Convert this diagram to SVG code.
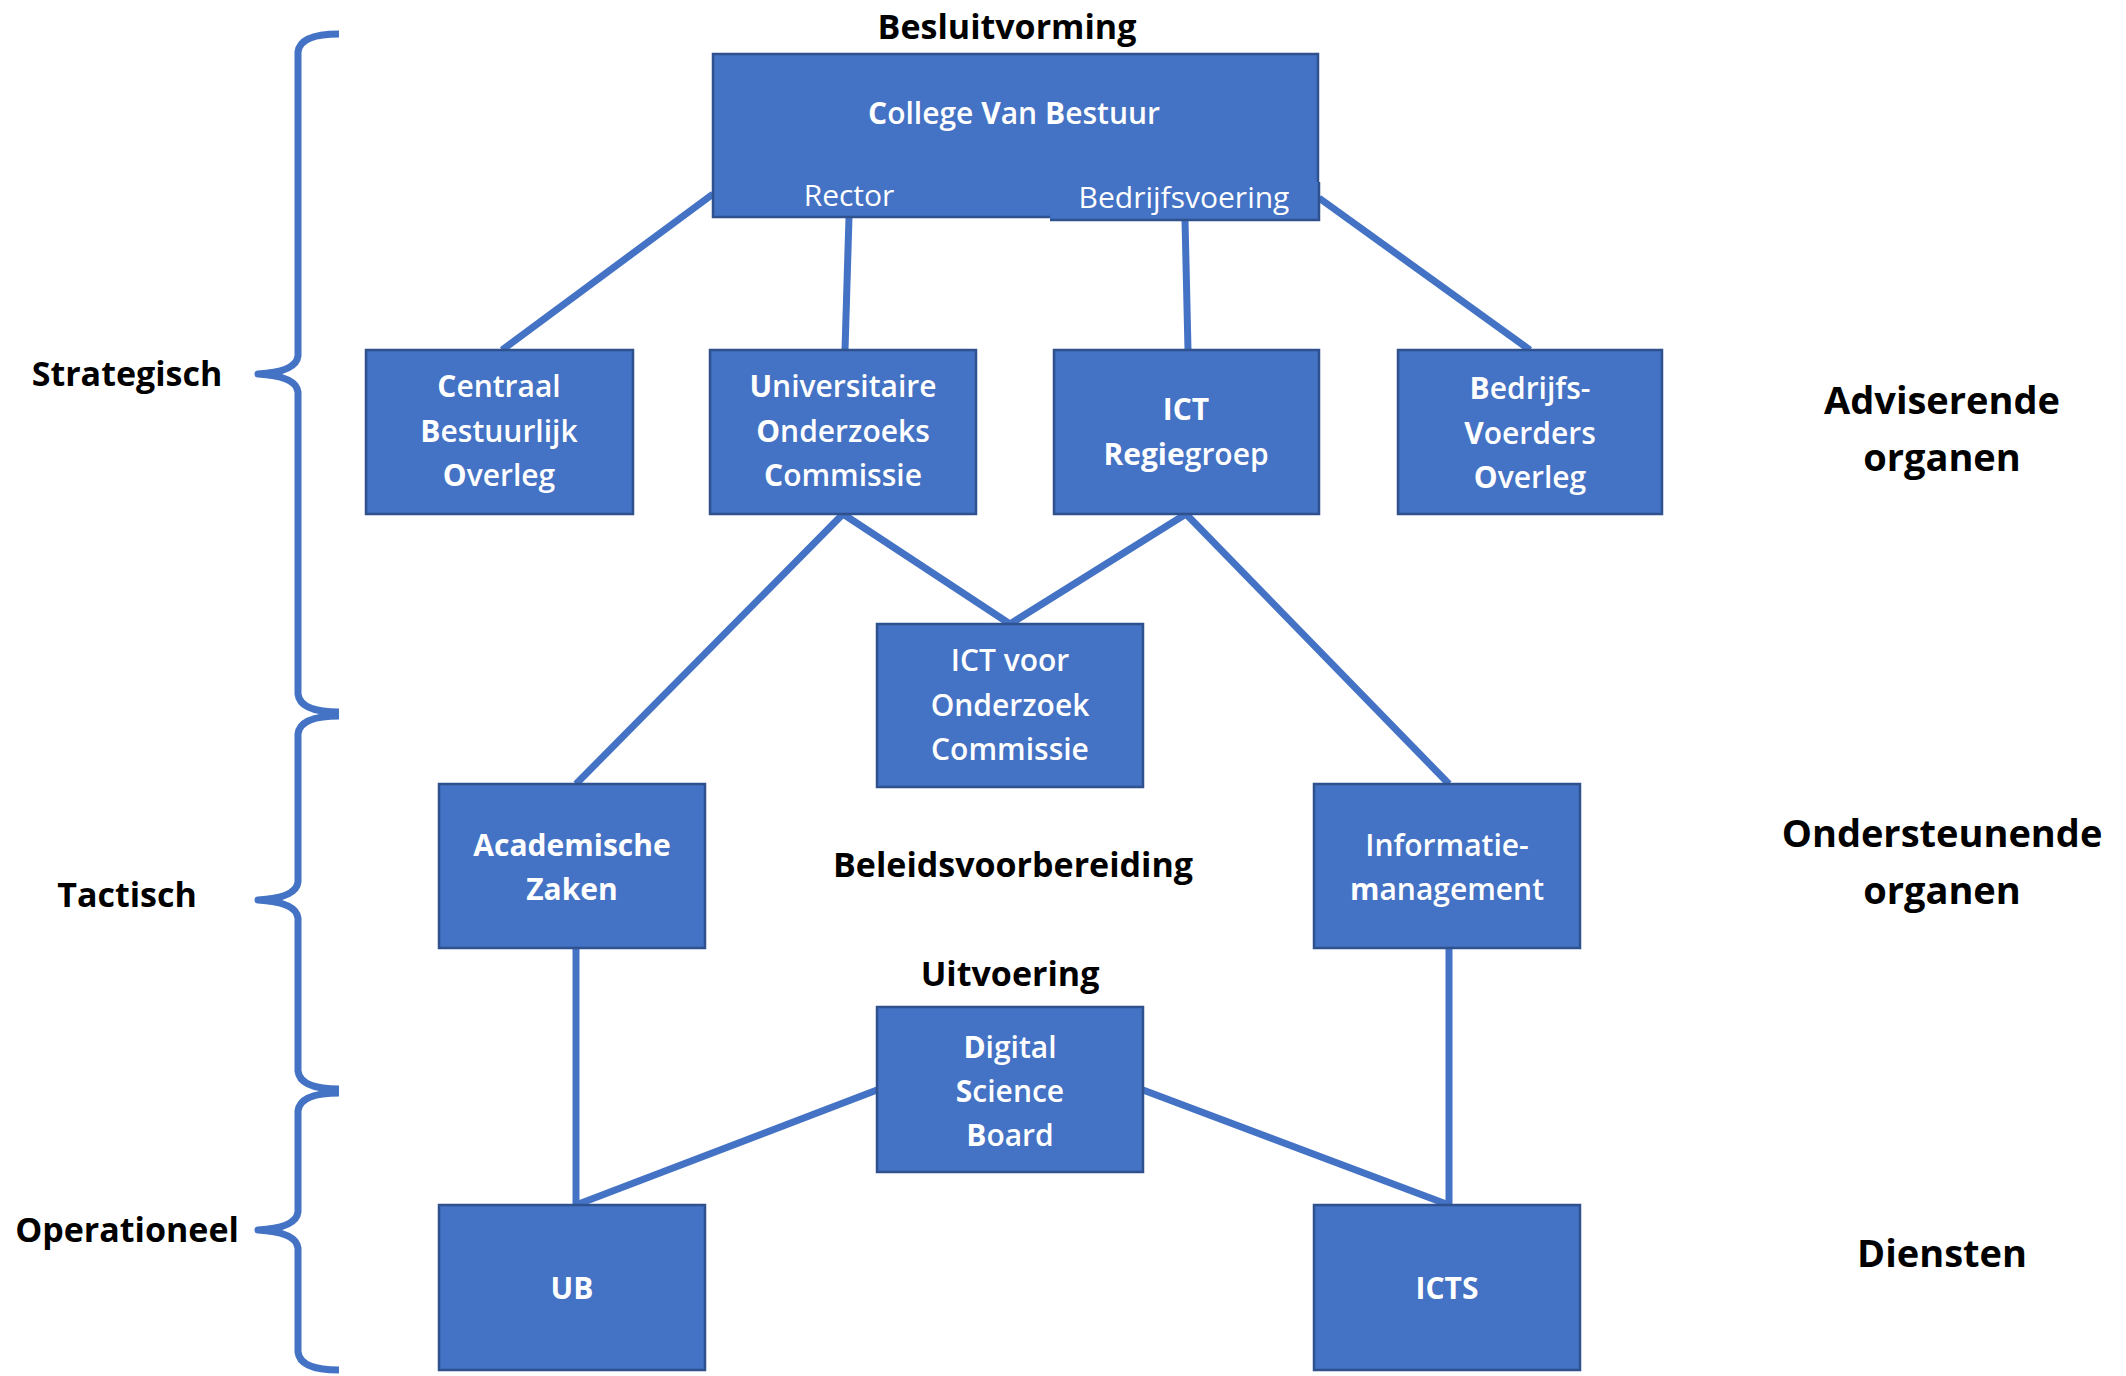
<svg xmlns="http://www.w3.org/2000/svg" width="2126" height="1376" viewBox="0 0 2126 1376">
<style>
.box{fill:#4472C4;stroke:#2F528F;stroke-width:2.5}
.con{stroke:#4472C4;stroke-width:7;fill:none}
.brace{stroke:#4472C4;stroke-width:7;fill:none;stroke-linejoin:round}
.bt{font-family:"Open Sans","Noto Sans","Liberation Sans",sans-serif;font-size:30px;font-weight:600;fill:#FFFFFF;text-anchor:middle}
.bt tspan.b{font-weight:700}
.bt.reg{font-weight:500}
.bt.bold{font-weight:700}
.lbl{font-family:"Open Sans","Noto Sans","Liberation Sans",sans-serif;font-size:34px;font-weight:700;fill:#000000;text-anchor:middle}
.rl{font-family:"Open Sans","Noto Sans","Liberation Sans",sans-serif;font-size:38px;font-weight:700;fill:#000000;text-anchor:middle}
</style>
<rect width="2126" height="1376" fill="#FFFFFF"/>

<g id="connectors">
<line class="con" x1="713" y1="194" x2="502" y2="350"/>
<line class="con" x1="849" y1="217" x2="845" y2="350"/>
<line class="con" x1="1185" y1="220" x2="1188" y2="350"/>
<line class="con" x1="1319" y1="198" x2="1530" y2="350"/>
<line class="con" x1="843" y1="514" x2="576" y2="784"/>
<line class="con" x1="843" y1="514" x2="1010" y2="624"/>
<line class="con" x1="1186" y1="514" x2="1010" y2="624"/>
<line class="con" x1="1186" y1="514" x2="1449" y2="784"/>
<line class="con" x1="576" y1="948" x2="576" y2="1205"/>
<line class="con" x1="1449" y1="948" x2="1449" y2="1205"/>
<line class="con" x1="877" y1="1090" x2="576" y2="1205"/>
<line class="con" x1="1143" y1="1090" x2="1449" y2="1205"/>
</g>

<g id="braces">
<path class="brace" d="M339,34 Q300,34 298,52 L298,356 Q296,372 258,374 Q296,376 298,392 L298,694 Q300,712 339,712"/>
<path class="brace" d="M339,716 Q300,716 298,734 L298,882 Q296,898 258,900 Q296,902 298,918 L298,1071 Q300,1089 339,1089"/>
<path class="brace" d="M339,1093 Q300,1093 298,1111 L298,1212 Q296,1228 258,1230 Q296,1232 298,1248 L298,1352 Q300,1370 339,1370"/>
</g>

<g id="level-labels">
<text class="lbl" x="127" y="386">Strategisch</text>
<text class="lbl" x="127" y="907">Tactisch</text>
<text class="lbl" x="127" y="1242">Operationeel</text>
<text class="lbl" x="1007" y="39">Besluitvorming</text>
<text class="lbl" x="1013" y="877">Beleidsvoorbereiding</text>
<text class="lbl" x="1010" y="986">Uitvoering</text>
<text class="rl" x="1942" y="414">Adviserende</text>
<text class="rl" x="1942" y="471">organen</text>
<text class="rl" x="1942" y="847">Ondersteunende</text>
<text class="rl" x="1942" y="904">organen</text>
<text class="rl" x="1942" y="1267">Diensten</text>
</g>

<g id="cvb">
<rect class="box" x="713" y="54" width="605" height="163"/>
<rect x="1050" y="182" width="269" height="38" fill="#4472C4"/>
<path d="M1050,220 L1319,220 L1319,182" fill="none" stroke="#2F528F" stroke-width="2.5"/>
<text class="bt" x="1014" y="124"><tspan class="b">C</tspan>ollege <tspan class="b">V</tspan>an <tspan class="b">B</tspan>estuur</text>
<text class="bt reg" x="849" y="206">Rector</text>
<text class="bt reg" x="1184" y="208">Bedrijfsvoering</text>
</g>

<g id="cbo">
<rect class="box" x="366" y="350" width="267" height="164"/>
<text class="bt" x="499" y="397"><tspan class="b">C</tspan>entraal</text>
<text class="bt" x="499" y="442"><tspan class="b">B</tspan>estuurlijk</text>
<text class="bt" x="499" y="486"><tspan class="b">O</tspan>verleg</text>
</g>

<g id="uoc">
<rect class="box" x="710" y="350" width="266" height="164"/>
<text class="bt" x="843" y="397"><tspan class="b">U</tspan>niversitaire</text>
<text class="bt" x="843" y="442"><tspan class="b">O</tspan>nderzoeks</text>
<text class="bt" x="843" y="486"><tspan class="b">C</tspan>ommissie</text>
</g>

<g id="ict-regiegroep">
<rect class="box" x="1054" y="350" width="265" height="164"/>
<text class="bt" x="1186" y="420"><tspan class="b">ICT</tspan></text>
<text class="bt" x="1186" y="465"><tspan class="b">Regie</tspan>groep</text>
</g>

<g id="bvo">
<rect class="box" x="1398" y="350" width="264" height="164"/>
<text class="bt" x="1530" y="399"><tspan class="b">B</tspan>edrijfs-</text>
<text class="bt" x="1530" y="444"><tspan class="b">V</tspan>oerders</text>
<text class="bt" x="1530" y="488"><tspan class="b">O</tspan>verleg</text>
</g>

<g id="ict-onderzoek">
<rect class="box" x="877" y="624" width="266" height="163"/>
<text class="bt" x="1010" y="671">ICT voor</text>
<text class="bt" x="1010" y="716">Onderzoek</text>
<text class="bt" x="1010" y="760">Commissie</text>
</g>

<g id="academische-zaken">
<rect class="box" x="439" y="784" width="266" height="164"/>
<text class="bt bold" x="572" y="856">Academische</text>
<text class="bt bold" x="572" y="900">Zaken</text>
</g>

<g id="informatiemanagement">
<rect class="box" x="1314" y="784" width="266" height="164"/>
<text class="bt" x="1447" y="856">Informatie-</text>
<text class="bt" x="1447" y="900"><tspan class="b">m</tspan>anagement</text>
</g>

<g id="dsb">
<rect class="box" x="877" y="1007" width="266" height="165"/>
<text class="bt" x="1010" y="1058"><tspan class="b">D</tspan>igital</text>
<text class="bt" x="1010" y="1102"><tspan class="b">S</tspan>cience</text>
<text class="bt" x="1010" y="1146"><tspan class="b">B</tspan>oard</text>
</g>

<g id="ub">
<rect class="box" x="439" y="1205" width="266" height="165"/>
<text class="bt bold" x="572" y="1299">UB</text>
</g>

<g id="icts">
<rect class="box" x="1314" y="1205" width="266" height="165"/>
<text class="bt bold" x="1447" y="1299">ICTS</text>
</g>
</svg>
